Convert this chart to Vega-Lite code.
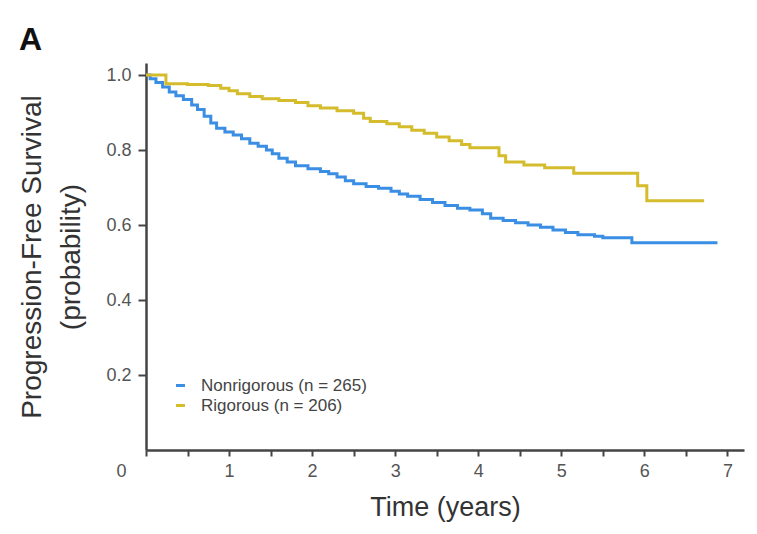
{
  "$schema": "https://vega.github.io/schema/vega-lite/v6.json",
  "autosize": {"type": "none"},
  "width": 598,
  "height": 387,
  "padding": {"left": 146, "top": 63, "right": 13, "bottom": 84},
  "background": "white",
  "title": {"text": "A", "anchor": "start", "frame": "bounds", "font": "Liberation Sans", "fontSize": 32, "fontWeight": "bold", "color": "#111", "baseline": "alphabetic", "offset": 11, "dy": 30},
  "config": {"view": {"stroke": null}},
  "data": {"values": [
    {"group": "Nonrigorous (n = 265)", "t": 0, "s": 1.0},
    {"group": "Nonrigorous (n = 265)", "t": 0.05, "s": 0.99},
    {"group": "Nonrigorous (n = 265)", "t": 0.12, "s": 0.98},
    {"group": "Nonrigorous (n = 265)", "t": 0.2, "s": 0.968},
    {"group": "Nonrigorous (n = 265)", "t": 0.28, "s": 0.955},
    {"group": "Nonrigorous (n = 265)", "t": 0.36, "s": 0.945},
    {"group": "Nonrigorous (n = 265)", "t": 0.45, "s": 0.935},
    {"group": "Nonrigorous (n = 265)", "t": 0.55, "s": 0.92},
    {"group": "Nonrigorous (n = 265)", "t": 0.62, "s": 0.908},
    {"group": "Nonrigorous (n = 265)", "t": 0.7, "s": 0.89},
    {"group": "Nonrigorous (n = 265)", "t": 0.78, "s": 0.872},
    {"group": "Nonrigorous (n = 265)", "t": 0.85, "s": 0.858},
    {"group": "Nonrigorous (n = 265)", "t": 0.95, "s": 0.848},
    {"group": "Nonrigorous (n = 265)", "t": 1.05, "s": 0.84},
    {"group": "Nonrigorous (n = 265)", "t": 1.15, "s": 0.83},
    {"group": "Nonrigorous (n = 265)", "t": 1.25, "s": 0.818},
    {"group": "Nonrigorous (n = 265)", "t": 1.35, "s": 0.81},
    {"group": "Nonrigorous (n = 265)", "t": 1.45, "s": 0.8},
    {"group": "Nonrigorous (n = 265)", "t": 1.52, "s": 0.79},
    {"group": "Nonrigorous (n = 265)", "t": 1.6, "s": 0.778},
    {"group": "Nonrigorous (n = 265)", "t": 1.7, "s": 0.768},
    {"group": "Nonrigorous (n = 265)", "t": 1.8, "s": 0.758},
    {"group": "Nonrigorous (n = 265)", "t": 1.95, "s": 0.75},
    {"group": "Nonrigorous (n = 265)", "t": 2.1, "s": 0.743},
    {"group": "Nonrigorous (n = 265)", "t": 2.2, "s": 0.737},
    {"group": "Nonrigorous (n = 265)", "t": 2.3, "s": 0.728},
    {"group": "Nonrigorous (n = 265)", "t": 2.4, "s": 0.718},
    {"group": "Nonrigorous (n = 265)", "t": 2.5, "s": 0.71},
    {"group": "Nonrigorous (n = 265)", "t": 2.65, "s": 0.703},
    {"group": "Nonrigorous (n = 265)", "t": 2.8, "s": 0.698},
    {"group": "Nonrigorous (n = 265)", "t": 2.95, "s": 0.69},
    {"group": "Nonrigorous (n = 265)", "t": 3.05, "s": 0.683},
    {"group": "Nonrigorous (n = 265)", "t": 3.15, "s": 0.677},
    {"group": "Nonrigorous (n = 265)", "t": 3.3, "s": 0.668},
    {"group": "Nonrigorous (n = 265)", "t": 3.45, "s": 0.66},
    {"group": "Nonrigorous (n = 265)", "t": 3.6, "s": 0.652},
    {"group": "Nonrigorous (n = 265)", "t": 3.75, "s": 0.645},
    {"group": "Nonrigorous (n = 265)", "t": 3.9, "s": 0.64},
    {"group": "Nonrigorous (n = 265)", "t": 4.05, "s": 0.63},
    {"group": "Nonrigorous (n = 265)", "t": 4.15, "s": 0.618},
    {"group": "Nonrigorous (n = 265)", "t": 4.3, "s": 0.612},
    {"group": "Nonrigorous (n = 265)", "t": 4.45, "s": 0.606},
    {"group": "Nonrigorous (n = 265)", "t": 4.6, "s": 0.6},
    {"group": "Nonrigorous (n = 265)", "t": 4.75, "s": 0.594},
    {"group": "Nonrigorous (n = 265)", "t": 4.9, "s": 0.587},
    {"group": "Nonrigorous (n = 265)", "t": 5.05, "s": 0.58},
    {"group": "Nonrigorous (n = 265)", "t": 5.2, "s": 0.574},
    {"group": "Nonrigorous (n = 265)", "t": 5.4, "s": 0.57},
    {"group": "Nonrigorous (n = 265)", "t": 5.5, "s": 0.566},
    {"group": "Nonrigorous (n = 265)", "t": 5.85, "s": 0.553},
    {"group": "Nonrigorous (n = 265)", "t": 6.88, "s": 0.553},
    {"group": "Rigorous (n = 206)", "t": 0, "s": 1.0},
    {"group": "Rigorous (n = 206)", "t": 0.24, "s": 0.977},
    {"group": "Rigorous (n = 206)", "t": 0.5, "s": 0.975},
    {"group": "Rigorous (n = 206)", "t": 0.75, "s": 0.972},
    {"group": "Rigorous (n = 206)", "t": 0.9, "s": 0.965},
    {"group": "Rigorous (n = 206)", "t": 1.0, "s": 0.958},
    {"group": "Rigorous (n = 206)", "t": 1.1, "s": 0.95},
    {"group": "Rigorous (n = 206)", "t": 1.25, "s": 0.943},
    {"group": "Rigorous (n = 206)", "t": 1.4, "s": 0.937},
    {"group": "Rigorous (n = 206)", "t": 1.6, "s": 0.932},
    {"group": "Rigorous (n = 206)", "t": 1.8, "s": 0.927},
    {"group": "Rigorous (n = 206)", "t": 1.95, "s": 0.918},
    {"group": "Rigorous (n = 206)", "t": 2.1, "s": 0.912},
    {"group": "Rigorous (n = 206)", "t": 2.3, "s": 0.905},
    {"group": "Rigorous (n = 206)", "t": 2.5, "s": 0.898},
    {"group": "Rigorous (n = 206)", "t": 2.62, "s": 0.885},
    {"group": "Rigorous (n = 206)", "t": 2.7, "s": 0.876},
    {"group": "Rigorous (n = 206)", "t": 2.9, "s": 0.87},
    {"group": "Rigorous (n = 206)", "t": 3.05, "s": 0.862},
    {"group": "Rigorous (n = 206)", "t": 3.2, "s": 0.853},
    {"group": "Rigorous (n = 206)", "t": 3.35, "s": 0.845},
    {"group": "Rigorous (n = 206)", "t": 3.5, "s": 0.835},
    {"group": "Rigorous (n = 206)", "t": 3.65, "s": 0.825},
    {"group": "Rigorous (n = 206)", "t": 3.8, "s": 0.815},
    {"group": "Rigorous (n = 206)", "t": 3.9, "s": 0.806},
    {"group": "Rigorous (n = 206)", "t": 4.25, "s": 0.785},
    {"group": "Rigorous (n = 206)", "t": 4.33, "s": 0.768},
    {"group": "Rigorous (n = 206)", "t": 4.55, "s": 0.76},
    {"group": "Rigorous (n = 206)", "t": 4.8, "s": 0.753},
    {"group": "Rigorous (n = 206)", "t": 5.15, "s": 0.738},
    {"group": "Rigorous (n = 206)", "t": 5.92, "s": 0.705},
    {"group": "Rigorous (n = 206)", "t": 6.03, "s": 0.665},
    {"group": "Rigorous (n = 206)", "t": 6.72, "s": 0.665}
  ]},
  "mark": {"type": "line", "interpolate": "step-after", "strokeWidth": 3},
  "encoding": {
    "x": {"field": "t", "type": "quantitative",
      "scale": {"domain": [0, 7.2], "nice": false, "zero": false},
      "axis": {"title": "Time (years)", "values": [0, 0.5, 1, 1.5, 2, 2.5, 3, 3.5, 4, 4.5, 5, 5.5, 6, 6.5, 7],
        "labelExpr": "datum.value % 1 === 0 ? '' + datum.value : ''",
        "labelFlush": false,
        "labelOffset": {"condition": {"test": "datum.value === 0", "value": -25}, "value": 0},
        "grid": false, "domainColor": "#444", "domainWidth": 2.5, "tickColor": "#444", "tickWidth": 2, "tickSize": 6,
        "labelFont": "Liberation Sans", "labelFontSize": 18, "labelColor": "#555", "labelPadding": 6,
        "titleFont": "Liberation Sans", "titleFontSize": 27, "titleFontWeight": "normal", "titleColor": "#333", "titlePadding": 14}},
    "y": {"field": "s", "type": "quantitative",
      "scale": {"domain": [0, 1.032], "nice": false},
      "axis": {"title": ["Progression-Free Survival", "(probability)"], "values": [0.2, 0.4, 0.6, 0.8, 1.0], "format": ".1f",
        "grid": false, "domainColor": "#444", "domainWidth": 2.5, "tickColor": "#444", "tickWidth": 2, "tickSize": 8,
        "labelFont": "Liberation Sans", "labelFontSize": 18, "labelColor": "#555", "labelPadding": 7,
        "titleFont": "Liberation Sans", "titleFontSize": 28, "titleFontWeight": "normal", "titleColor": "#333", "titleLineHeight": 39, "titlePadding": 20}},
    "color": {"field": "group", "type": "nominal",
      "scale": {"domain": ["Nonrigorous (n = 265)", "Rigorous (n = 206)"], "range": ["#3a8ee3", "#d5bc2c"]},
      "legend": {"title": null, "orient": "none", "legendX": 26, "legendY": 314, "symbolType": "stroke", "symbolSize": 80, "symbolStrokeWidth": 3,
        "labelFont": "Liberation Sans", "labelFontSize": 17, "labelColor": "#444", "labelOffset": 12, "labelLimit": 400, "rowPadding": 2}}
  }
}
